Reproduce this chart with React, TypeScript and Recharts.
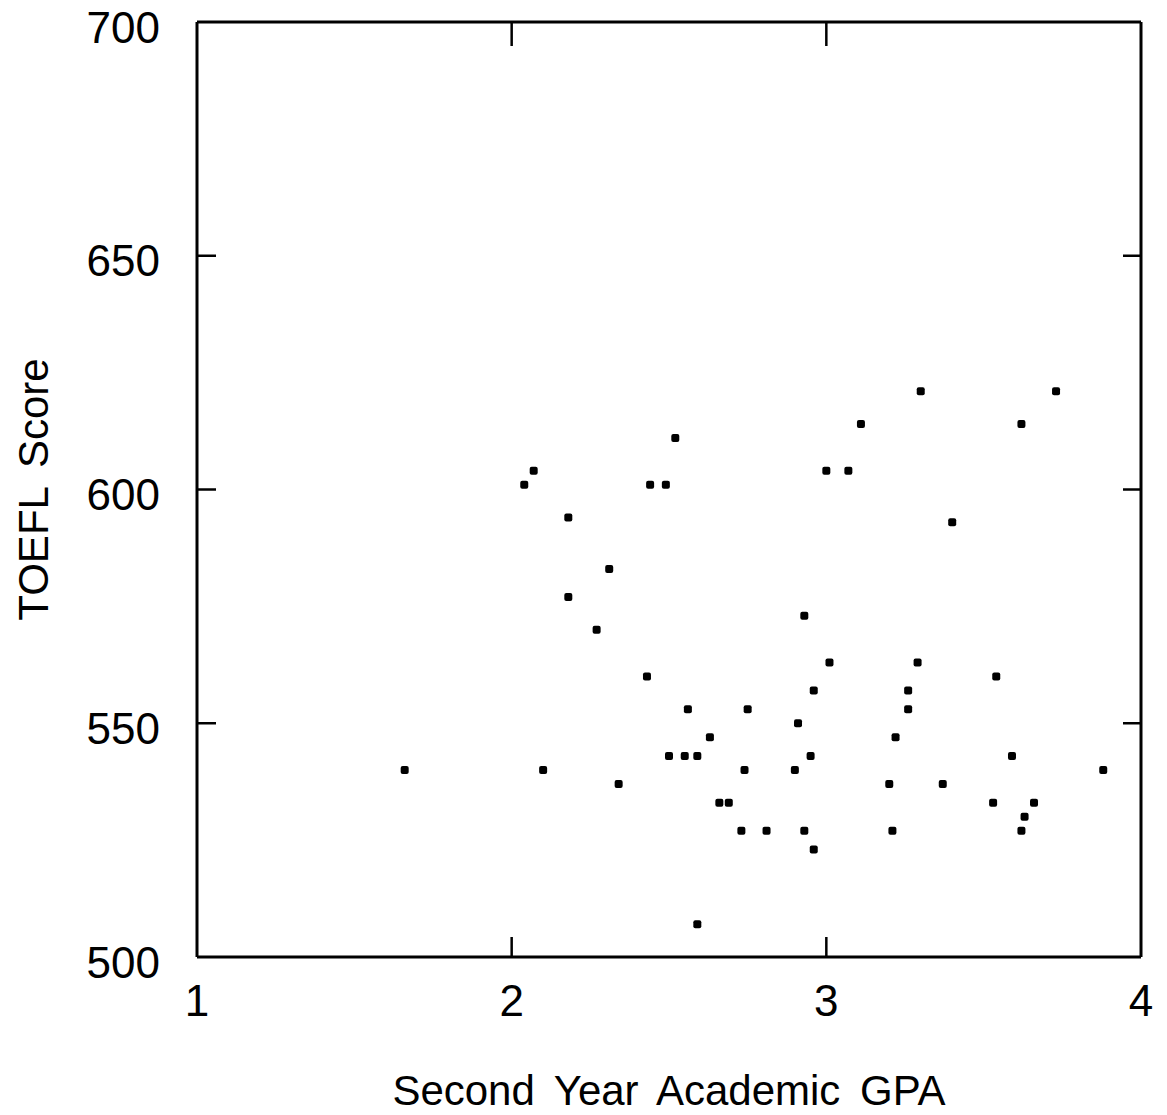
import React from 'react';
import { ScatterChart, Scatter, XAxis, YAxis, ZAxis } from 'recharts';

// Second Year Academic GPA (x) and TOEFL Score (y), one entry per student
const gpa = [
  1.66, 2.04, 2.07, 2.10, 2.18, 2.18, 2.27, 2.31, 2.34, 2.43,
  2.44, 2.49, 2.52, 2.50, 2.55, 2.59, 2.56, 2.63, 2.59, 2.66,
  2.69, 2.73, 2.75, 2.74, 2.81, 2.91, 2.90, 2.93, 2.93, 2.95,
  2.96, 2.96, 3.00, 3.07, 3.01, 3.11, 3.20, 3.22, 3.21, 3.26,
  3.26, 3.30, 3.29, 3.37, 3.40, 3.53, 3.54, 3.59, 3.62, 3.62,
  3.63, 3.66, 3.73, 3.88,
];
const toefl = [
  540, 601, 604, 540, 594, 577, 570, 583, 537, 560,
  601, 601, 611, 543, 543, 543, 553, 547, 507, 533,
  533, 527, 553, 540, 527, 550, 540, 573, 527, 543,
  557, 523, 604, 604, 563, 614, 537, 547, 527, 557,
  553, 621, 563, 537, 593, 533, 560, 543, 614, 527,
  530, 533, 621, 540,
];

const xTicks = [1, 2, 3, 4];
const yTicks = [500, 550, 600, 650, 700];
const xInnerTicks = [2, 3];
const yInnerTicks = [550, 600, 650];
const xDomain = [1, 4];
const yDomain = [500, 700];

const data = gpa.map((g, i) => ({ gpa: g, toefl: toefl[i] }));

// inward tick marks on all four sides of the frame, placed by the chart's scales
const frameTicks = [
  ...xInnerTicks.map((v) => ({ gpa: v, toefl: yDomain[1], side: 'top' })),
  ...yInnerTicks.map((v) => ({ gpa: xDomain[0], toefl: v, side: 'left' })),
  ...yInnerTicks.map((v) => ({ gpa: xDomain[1], toefl: v, side: 'right' })),
  ...xInnerTicks.map((v) => ({ gpa: v, toefl: yDomain[0], side: 'bottom' })),
];

const FONT = '"Liberation Sans", Arial, sans-serif';
const axisLine = { stroke: '#000', strokeWidth: 3 };

const Dot = (props: any) => {
  const { cx, cy } = props;
  if (cx == null || cy == null) return <g />;
  return <rect x={cx - 4} y={cy - 4} width={8} height={8} rx={2} fill="#000" />;
};

const TICK_LEN: Record<string, [number, number]> = {
  bottom: [0, -20],
  top: [0, 24],
  left: [19, 0],
  right: [-18, 0],
};

const FrameTick = (props: any) => {
  const { cx, cy } = props;
  if (cx == null || cy == null) return <g />;
  const side = props.payload?.side ?? props.side ?? 'bottom';
  const [dx, dy] = TICK_LEN[side] ?? TICK_LEN.bottom;
  return <line x1={cx} y1={cy} x2={cx + dx} y2={cy + dy} stroke="#000" strokeWidth={2.5} />;
};

const LeftTickLabel = (props: any) => {
  const { x, y, payload } = props;
  return (
    <text x={x} y={Number(y) + 5} dy="0.355em" textAnchor="end" fill="#000" fontSize={44} fontFamily={FONT}>
      {payload.value}
    </text>
  );
};

export default function App() {
  return (
    <div style={{ position: 'absolute', left: 0, top: 0, width: 1167, height: 1115, background: '#fff' }}>
      <ScatterChart width={1167} height={1115} margin={{ top: 21, right: 25, bottom: 0, left: 0 }}>
        <XAxis
          xAxisId="bottom"
          dataKey="gpa"
          type="number"
          domain={xDomain}
          ticks={xTicks}
          orientation="bottom"
          height={158}
          axisLine={axisLine}
          tickLine={false}
          tickSize={0}
          tickMargin={28}
          tick={{ fill: '#000', fontSize: 44, fontFamily: FONT }}
          interval={0}
          label={{
            value: 'Second Year Academic GPA',
            position: 'insideBottom',
            offset: 10,
            fill: '#000',
            fontSize: 42,
            fontFamily: FONT,
            style: { wordSpacing: 8 },
          }}
        />
        <XAxis
          xAxisId="top"
          dataKey="gpa"
          type="number"
          domain={xDomain}
          ticks={xTicks}
          orientation="top"
          height={1}
          axisLine={axisLine}
          tickLine={false}
          tick={false}
          interval={0}
        />
        <YAxis
          yAxisId="left"
          dataKey="toefl"
          type="number"
          domain={yDomain}
          ticks={yTicks}
          orientation="left"
          width={197}
          axisLine={axisLine}
          tickLine={false}
          tickSize={0}
          tickMargin={37}
          tick={LeftTickLabel}
          interval={0}
          label={{
            value: 'TOEFL Score',
            angle: -90,
            position: 'insideLeft',
            offset: 33,
            fill: '#000',
            fontSize: 42,
            fontFamily: FONT,
            style: { textAnchor: 'middle', wordSpacing: 8 },
          }}
        />
        <YAxis
          yAxisId="right"
          dataKey="toefl"
          type="number"
          domain={yDomain}
          ticks={yTicks}
          orientation="right"
          width={1}
          axisLine={axisLine}
          tickLine={false}
          tick={false}
          interval={0}
        />
        <ZAxis range={[64, 64]} />
        <Scatter
          data={frameTicks}
          xAxisId="bottom"
          yAxisId="left"
          fill="#000"
          shape={FrameTick}
          legendType="none"
          isAnimationActive={false}
        />
        <Scatter
          data={data}
          xAxisId="bottom"
          yAxisId="left"
          fill="#000"
          shape={Dot}
          isAnimationActive={false}
        />
      </ScatterChart>
    </div>
  );
}
